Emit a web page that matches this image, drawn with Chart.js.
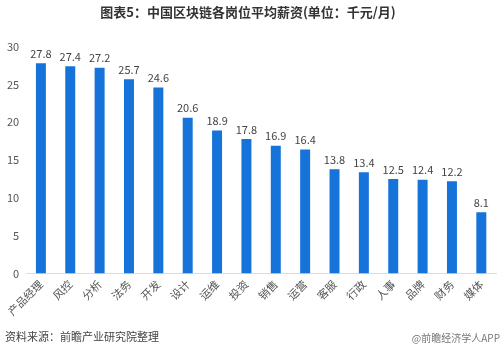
<!DOCTYPE html>
<html><head><meta charset="utf-8">
<script src="https://cdn.jsdelivr.net/npm/chart.js@4"></script>
<style>html,body{margin:0;padding:0;background:#fff;}#wrap{width:500px;height:353px;position:relative;}</style>
</head><body><div id="wrap"><canvas id="c" width="500" height="353"></canvas></div>
<script>
const categories = ["产品经理","风控","分析","法务","开发","设计","运维","投资","销售","运营","客服","行政","人事","品牌","财务","媒体"];
const salaries = [27.8,27.4,27.2,25.7,24.6,20.6,18.9,17.8,16.9,16.4,13.8,13.4,12.5,12.4,12.2,8.1];
const yTicks = [0,5,10,15,20,25,30];
const titleText = "图表5：中国区块链各岗位平均薪资(单位：千元/月)";
const sourceText = "资料来源：前瞻产业研究院整理";
const brandText = "@前瞻经济学人APP";
const FONT = "'Noto Sans CJK SC','Noto Sans',sans-serif";

const labelPlugin = {
  id: 'valueLabels',
  afterDatasetsDraw(chart) {
    const ctx = chart.ctx;
    const meta = chart.getDatasetMeta(0);
    ctx.save();
    ctx.font = "11px " + FONT;
    ctx.fillStyle = "#444";
    ctx.textAlign = "center";
    ctx.textBaseline = "bottom";
    meta.data.forEach((bar, i) => {
      ctx.fillText(salaries[i].toFixed(1), bar.x, bar.y - 4);
    });
    ctx.restore();
  }
};
const footerPlugin = {
  id: 'footerText',
  afterDraw(chart) {
    const ctx = chart.ctx;
    ctx.save();
    ctx.font = "11px " + FONT;
    ctx.fillStyle = "#444";
    ctx.textAlign = "left";
    ctx.textBaseline = "middle";
    ctx.fillText(sourceText, 5, 337);
    ctx.font = "10px " + FONT;
    ctx.fillStyle = "#777";
    ctx.textAlign = "right";
    ctx.fillText(brandText, 500, 338);
    ctx.restore();
  }
};

new Chart(document.getElementById('c'), {
  type: 'bar',
  data: {
    labels: categories,
    datasets: [{ data: salaries, backgroundColor: '#1673DA', barPercentage: 0.68, categoryPercentage: 0.5 }]
  },
  options: {
    responsive: false,
    animation: false,
    layout: { padding: { left: 0, right: 4, top: 0, bottom: 31 } },
    plugins: {
      legend: { display: false },
      tooltip: { enabled: false },
      title: { display: true, text: titleText, color: '#333', font: { family: FONT, size: 13, weight: 'bold' }, padding: { top: 4, bottom: 27 } }
    },
    scales: {
      x: {
        grid: { display: false, drawTicks: false },
        border: { display: true, color: '#ddd' },
        ticks: { color: '#555', font: { family: FONT, size: 11 }, maxRotation: 45, minRotation: 45, padding: 4 }
      },
      y: {
        min: 0, max: 30,
        afterBuildTicks(axis) { axis.ticks = yTicks.map(v => ({ value: v })); },
        grid: { display: false, drawTicks: false },
        border: { display: false },
        ticks: { color: '#555', font: { family: FONT, size: 11 }, padding: 7 }
      }
    }
  },
  plugins: [labelPlugin, footerPlugin]
});
</script></body></html>
